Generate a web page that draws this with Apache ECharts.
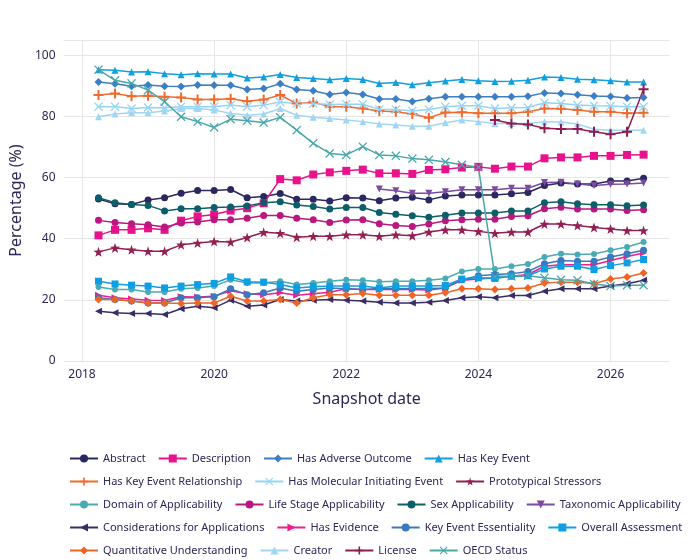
<!DOCTYPE html>
<html>
<head>
<meta charset="utf-8">
<script src="https://cdn.jsdelivr.net/npm/echarts@6/dist/echarts.min.js"></script>
<style>html,body{margin:0;padding:0;background:#fff}#main{width:700px;height:560px}</style>
</head>
<body>
<div id="main"></div>
<script>
// snapshot dates (quarterly)
const dates = ['2018-04','2018-07','2018-10','2019-01','2019-04','2019-07','2019-10','2020-01','2020-04','2020-07','2020-10',
  '2021-01','2021-04','2021-07','2021-10','2022-01','2022-04','2022-07','2022-10','2023-01','2023-04','2023-07','2023-10',
  '2024-01','2024-04','2024-07','2024-10','2025-01','2025-04','2025-07','2025-10','2026-01','2026-04','2026-07'];

const abstract = [53.0,51.4,51.2,52.7,53.4,54.9,55.8,55.8,56.1,53.4,53.8,54.8,52.9,52.9,52.3,53.4,53.3,52.4,53.3,53.6,52.7,54.0,54.3,54.3,54.3,54.7,55.1,57.4,58.2,57.9,57.9,58.9,58.9,59.8];
const description = [41.1,42.9,42.9,43.4,42.9,45.9,47.3,47.9,49.2,50.0,51.6,59.5,59.1,61.0,61.7,62.2,62.6,61.4,61.4,61.2,62.5,62.7,63.3,63.5,62.9,63.6,63.6,66.3,66.6,66.6,67.1,67.1,67.4,67.5];
const hasAdverseOutcome = [91.3,90.7,89.9,90.3,89.9,89.8,90.3,90.2,90.2,88.8,89.1,90.7,88.8,88.4,87.2,87.8,87.2,85.7,85.7,84.9,85.8,86.4,86.4,86.4,86.4,86.4,86.6,87.7,87.5,87.1,86.7,86.5,86.0,86.2];
const hasKeyEvent = [95.3,95.1,94.5,94.6,94.0,93.6,94.0,93.9,93.9,92.6,92.9,93.7,92.7,92.4,92.0,92.4,92.1,90.8,91.1,90.4,91.0,91.6,92.1,91.7,91.4,91.5,91.8,92.9,92.7,92.2,92.0,91.7,91.3,91.3];
const hasKER = [87.0,87.5,86.6,86.8,86.4,86.2,85.5,85.5,85.8,85.0,85.5,87.0,84.2,84.6,83.2,83.2,82.6,81.8,81.5,80.8,79.6,81.3,81.4,81.0,81.0,81.0,81.5,82.6,82.5,82.1,81.5,81.5,81.0,81.2];
const hasMIE = [83.2,83.2,82.6,82.9,82.8,83.2,83.2,83.2,83.7,83.2,83.7,84.7,84.2,84.2,83.9,84.0,84.0,82.3,82.3,81.8,82.3,83.2,83.5,83.5,82.6,82.8,82.9,84.5,84.2,83.7,83.5,83.4,83.2,83.2];
const stressors = [35.7,37.0,36.4,35.9,35.9,38.0,38.6,39.1,38.9,40.4,42.1,41.8,40.5,40.8,40.8,41.3,41.3,40.8,41.3,41.0,42.2,42.9,42.9,42.4,41.8,42.2,42.2,44.8,44.8,44.3,43.7,43.2,42.7,42.7];
const domain = [24.2,23.4,23.4,22.6,22.6,23.6,23.9,24.5,26.6,25.5,25.5,26.1,25.0,25.5,26.1,26.6,26.4,25.9,26.1,26.1,26.4,27.0,29.3,30.1,30.1,31.0,31.7,34.0,35.1,34.8,35.0,36.2,37.3,38.9];
const lifeStage = [46.0,45.3,44.9,44.6,43.8,45.1,45.5,46.2,46.2,46.7,47.6,47.6,46.7,46.2,45.3,46.1,46.2,44.9,44.3,44.0,44.8,45.9,46.2,46.4,46.4,47.3,47.5,49.8,50.3,49.7,49.7,49.7,49.2,49.5];
const sex = [53.4,51.8,51.2,50.9,49.1,49.8,49.8,50.2,50.4,50.7,51.8,52.1,51.0,50.5,49.7,50.2,50.2,48.6,48.0,47.5,47.0,47.7,48.4,48.4,48.4,49.1,49.1,51.8,52.1,51.4,51.1,51.1,50.8,51.0];
const taxonomic = [null,null,null,null,null,null,null,null,null,null,null,null,null,null,null,null,null,56.3,55.7,54.9,54.9,55.4,56.0,56.0,56.0,56.5,56.5,58.4,58.5,57.9,57.4,57.8,57.9,58.2];
const considerations = [16.3,15.8,15.5,15.5,15.2,17.1,17.9,17.4,19.9,17.9,18.3,20.1,19.6,19.9,20.1,19.9,19.6,19.2,19.0,19.0,19.2,19.8,20.7,21.0,20.7,21.4,21.4,22.8,23.6,23.6,23.6,24.5,25.3,26.4];
const hasEvidence = [21.5,20.7,20.3,19.9,19.8,21.0,20.9,21.2,23.0,22.0,21.7,22.3,21.5,22.0,22.5,23.6,23.4,23.4,23.4,23.4,23.2,23.9,26.4,26.8,27.2,27.7,28.3,31.0,31.5,31.5,31.5,32.9,34.2,35.3];
const keEssentiality = [20.7,20.1,19.6,19.0,19.0,20.7,20.7,21.0,23.6,21.7,22.3,23.9,22.8,23.4,23.9,23.6,23.4,23.7,23.7,23.7,23.7,23.9,26.6,27.9,28.3,28.5,29.3,31.8,32.9,32.6,32.6,34.0,35.1,36.2];
const overall = [26.1,25.2,24.8,24.5,23.9,24.5,25.0,25.4,27.5,25.9,25.8,25.0,23.9,24.3,24.5,24.5,24.5,23.9,24.5,24.5,24.5,24.7,26.8,27.2,27.0,27.7,27.9,30.1,31.0,31.0,29.9,31.2,32.1,33.2];
const quantitative = [20.1,20.1,19.6,19.0,19.0,18.8,19.0,19.0,21.2,19.6,19.6,20.1,19.0,20.7,21.7,21.7,22.1,21.5,21.5,21.5,21.5,22.3,23.6,23.6,23.4,23.6,23.9,25.5,25.8,25.8,25.3,26.8,27.5,28.8];
const creator = [79.9,80.8,81.2,81.2,81.8,82.6,82.6,82.1,81.0,80.4,80.8,82.6,80.4,79.7,79.3,78.8,78.3,77.5,77.2,76.8,76.8,77.9,78.8,78.3,77.7,77.7,77.7,78.3,78.2,77.5,75.8,75.5,75.5,75.5];
const license = [null,null,null,null,null,null,null,null,null,null,null,null,null,null,null,null,null,null,null,null,null,null,null,null,78.8,77.7,77.4,76.1,75.9,75.9,75.0,74.2,75.0,88.9];
const oecd = [95.3,91.8,90.8,88.6,84.8,79.9,78.3,76.4,79.1,78.6,78.0,79.7,75.5,71.2,67.9,67.4,70.1,67.4,67.1,66.2,65.8,65.1,64.2,63.4,27.7,27.7,27.9,27.2,26.6,26.4,25.2,24.5,24.8,24.8];

const xTicks = [2018, 2020, 2022, 2024, 2026];

const PLUS = 'path://M4,0h2v4h4v2h-4v4h-2v-4h-4v-2h4z';
const CROSS = 'path://M1,0L5,4L9,0L10,1L6,5L10,9L9,10L5,6L1,10L0,9L4,5L0,1Z';
const STAR = 'path://M5,0L6.2,3.5L10,3.6L7,5.9L8.1,9.5L5,7.4L1.9,9.5L3,5.9L0,3.6L3.8,3.5Z';

const seriesDefs = [
  ['Abstract', abstract, '#2b2760', 'circle', 0, 7],
  ['Description', description, '#e8128c', 'rect', 0, 8],
  ['Has Adverse Outcome', hasAdverseOutcome, '#3b7ec4', 'diamond', 0, 8],
  ['Has Key Event', hasKeyEvent, '#119fdf', 'triangle', 0, 7],
  ['Has Key Event Relationship', hasKER, '#ef6a2c', PLUS, 0, 10],
  ['Has Molecular Initiating Event', hasMIE, '#95d4f5', CROSS, 0, 9],
  ['Prototypical Stressors', stressors, '#932054', STAR, 0, 10],
  ['Domain of Applicability', domain, '#4aabb2', 'circle', 0, 6],
  ['Life Stage Applicability', lifeStage, '#b8187f', 'circle', 0, 7],
  ['Sex Applicability', sex, '#0c5f69', 'circle', 0, 7],
  ['Taxonomic Applicability', taxonomic, '#7b4b9f', 'triangle', 180, 7],
  ['Considerations for Applications', considerations, '#392c68', 'triangle', 90, 7],
  ['Has Evidence', hasEvidence, '#ec1f8c', 'triangle', -90, 7],
  ['Key Event Essentiality', keEssentiality, '#3a78bf', 'circle', 0, 7],
  ['Overall Assessment', overall, '#0e9ee2', 'rect', 0, 7],
  ['Quantitative Understanding', quantitative, '#ee6526', 'diamond', 0, 8],
  ['Creator', creator, '#a1d6f3', 'triangle', 0, 7],
  ['License', license, '#8f1c50', PLUS, 0, 10],
  ['OECD Status', oecd, '#48a7aa', CROSS, 0, 9]
];

function toYear(d) {
  const [y, m] = d.split('-').map(Number);
  return y + (m - 1) / 12;
}

const chart = echarts.init(document.getElementById('main'));
const textColor = '#2e2656';

chart.setOption({
  animation: false,
  textStyle: { fontFamily: 'Noto Sans', color: textColor },
  grid: { left: 62, right: 30, top: 40, bottom: 199 },
  xAxis: {
    type: 'value',
    min: 2017.72,
    max: 2026.9,
    name: 'Snapshot date',
    nameLocation: 'middle',
    nameGap: 30,
    nameTextStyle: { fontSize: 16, color: textColor },
    axisLine: { show: false },
    axisTick: { show: false, customValues: xTicks },
    axisLabel: { customValues: xTicks, color: textColor, fontSize: 12, formatter: v => String(v) },
    splitLine: { show: true, lineStyle: { color: '#e6e6e6' } }
  },
  yAxis: {
    type: 'value',
    min: 0,
    max: 105,
    interval: 20,
    name: 'Percentage (%)',
    nameLocation: 'middle',
    nameGap: 38,
    nameTextStyle: { fontSize: 16, color: textColor },
    axisLine: { show: false },
    axisTick: { show: false },
    axisLabel: { color: textColor, fontSize: 12, formatter: v => (v % 20 === 0 ? String(v) : '') },
    splitLine: { lineStyle: { color: '#e6e6e6' } }
  },
  legend: {
    left: 64,
    top: 448,
    width: 640,
    itemGap: 12,
    itemWidth: 28,
    itemHeight: 10,
    textStyle: { fontSize: 11, color: textColor },
    data: seriesDefs.map(s => s[0])
  },
  series: seriesDefs.map(([name, vals, color, symbol, rot, size]) => ({
    name: name,
    type: 'line',
    data: dates.map((d, i) => [toYear(d), vals[i]]),
    connectNulls: false,
    symbol: symbol,
    symbolRotate: rot,
    symbolSize: size,
    showAllSymbol: true,
    lineStyle: { width: 1.5, color: color },
    itemStyle: { color: color }
  }))
});
</script>
</body>
</html>
